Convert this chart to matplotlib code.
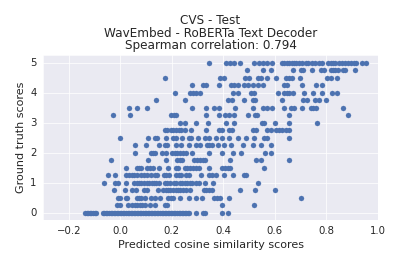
import matplotlib
matplotlib.use("Agg")
import matplotlib.pyplot as plt
import seaborn as sns
import numpy as np

sns.set_style("darkgrid")

# Predicted cosine similarity (x) for each ground-truth score level (y)
x_500 = [0.344, 0.41, 0.426, 0.44, 0.465, 0.52, 0.539, 0.555, 0.57, 0.59, 0.627, 0.636, 0.645,
         0.655, 0.665, 0.674, 0.683, 0.694, 0.707, 0.72, 0.73, 0.743, 0.755, 0.771, 0.784,
         0.807, 0.816, 0.825, 0.835, 0.848, 0.861, 0.871, 0.884, 0.897, 0.906, 0.915, 0.936, 0.955]
x_475 = [0.49, 0.555, 0.584, 0.672, 0.701, 0.71, 0.743, 0.777, 0.79, 0.816, 0.825, 0.835,
         0.846, 0.864, 0.871, 0.91]
x_450 = [0.175, 0.385, 0.404, 0.485, 0.498, 0.533, 0.546, 0.571, 0.606, 0.642, 0.655, 0.668,
         0.698, 0.803, 0.816, 0.839]
x_425 = [0.278, 0.32, 0.331, 0.382, 0.43, 0.443, 0.456, 0.481, 0.494, 0.514, 0.535, 0.555,
         0.636, 0.645, 0.707, 0.758, 0.784]
x_400 = [0.211, 0.272, 0.282, 0.295, 0.31, 0.436, 0.458, 0.507, 0.52, 0.61, 0.636, 0.645,
         0.655, 0.671, 0.713, 0.748, 0.784, 0.82, 0.842]
x_375 = [0.14, 0.252, 0.417, 0.434, 0.481, 0.514, 0.524, 0.627, 0.709, 0.726, 0.755, 0.771, 0.8]
x_350 = [0.033, 0.063, 0.104, 0.278, 0.333, 0.365, 0.382, 0.447, 0.514, 0.555, 0.571, 0.587,
         0.636, 0.664, 0.674, 0.707, 0.739, 0.748, 0.761, 0.865]
x_325 = [-0.027, 0.037, 0.198, 0.208, 0.215, 0.331, 0.382, 0.408, 0.423, 0.443, 0.494, 0.524,
         0.53, 0.655, 0.883]
x_300 = [0.23, 0.25, 0.295, 0.34, 0.41, 0.44, 0.55, 0.556, 0.6, 0.655, 0.765]
x_275 = [0.172, 0.183, 0.196, 0.205, 0.215, 0.228, 0.237, 0.25, 0.275, 0.333, 0.382, 0.395,
         0.421, 0.434, 0.514, 0.526, 0.571, 0.584, 0.604, 0.616, 0.629, 0.642, 0.653]
x_250 = [-0.001, 0.108, 0.134, 0.143, 0.179, 0.205, 0.215, 0.241, 0.266, 0.275, 0.301, 0.327,
         0.346, 0.372, 0.395, 0.423, 0.456, 0.488, 0.52, 0.559, 0.571, 0.655]
x_225 = [0.057, 0.099, 0.151, 0.172, 0.183, 0.218, 0.237, 0.266, 0.295, 0.308, 0.337, 0.346,
         0.356, 0.378, 0.404, 0.43, 0.477, 0.514, 0.546, 0.584]
x_200 = [0.057, 0.118, 0.127, 0.134, 0.16, 0.176, 0.202, 0.211, 0.22, 0.23, 0.243, 0.256,
         0.279, 0.344, 0.395, 0.436, 0.468, 0.562, 0.584]
x_175 = [-0.037, 0.108, 0.176, 0.22, 0.23, 0.241, 0.286, 0.297, 0.308, 0.32, 0.329, 0.427,
         0.526, 0.546, 0.655]
x_150 = [0.022, 0.063, 0.073, 0.08, 0.104, 0.115, 0.127, 0.151, 0.185, 0.215, 0.224, 0.252,
         0.26, 0.272, 0.284, 0.295, 0.305, 0.346, 0.395, 0.407, 0.417, 0.426, 0.559]
x_125 = [-0.046, -0.021, 0.022, 0.035, 0.044, 0.054, 0.063, 0.08, 0.091, 0.102, 0.121, 0.134,
         0.143, 0.17, 0.179, 0.189, 0.215, 0.228, 0.237, 0.256, 0.266, 0.314, 0.346, 0.356,
         0.372, 0.404, 0.436, 0.479, 0.488]
x_100 = [-0.062, -0.021, -0.008, 0.024, 0.053, 0.063, 0.073, 0.082, 0.091, 0.102, 0.112, 0.122,
         0.131, 0.14, 0.149, 0.172, 0.181, 0.192, 0.208, 0.218, 0.23, 0.241, 0.25, 0.26,
         0.269, 0.279, 0.292, 0.305, 0.329, 0.359, 0.535]
x_075 = [-0.024, 0.018, 0.044, 0.06, 0.091, 0.102, 0.147, 0.166, 0.176, 0.185, 0.194, 0.205,
         0.215, 0.224, 0.233, 0.243, 0.254, 0.269, 0.323, 0.333, 0.344, 0.356, 0.465, 0.524, 0.6]
x_050 = [-0.01, -0.001, 0.022, 0.027, 0.063, 0.073, 0.082, 0.095, 0.121, 0.134, 0.153, 0.185,
         0.196, 0.205, 0.233, 0.266, 0.292, 0.317, 0.365, 0.375, 0.385, 0.42, 0.7]
x_025 = [-0.014, -0.001, 0.031, 0.044, 0.057, 0.066, 0.076, 0.086, 0.095, 0.115, 0.134, 0.172,
         0.181, 0.395, 0.517]
x_000 = [-0.136, -0.13, -0.124, -0.118, -0.112, -0.106, -0.1, -0.094, -0.068, -0.062, -0.056,
         -0.05, -0.044, -0.038, -0.032, -0.026, -0.02, -0.014, -0.008, -0.002, 0.004, 0.01,
         0.016, 0.022, 0.028, 0.034, 0.04, 0.046, 0.052, 0.058, 0.064, 0.07, 0.076, 0.082,
         0.088, 0.094, 0.1, 0.106, 0.112, 0.118, 0.124, 0.13, 0.136, 0.142, 0.148, 0.154,
         0.16, 0.166, 0.172, 0.178, 0.184, 0.19, 0.196, 0.202, 0.208, 0.214, 0.22, 0.226,
         0.232, 0.238, 0.244, 0.25, 0.256, 0.262, 0.268, 0.295, 0.32, 0.327, 0.395, 0.417]

levels = [5.0, 4.75, 4.5, 4.25, 4.0, 3.75, 3.5, 3.25, 3.0, 2.75, 2.5, 2.25, 2.0,
          1.75, 1.5, 1.25, 1.0, 0.75, 0.5, 0.25, 0.0]
rows = [x_500, x_475, x_450, x_425, x_400, x_375, x_350, x_325, x_300, x_275, x_250,
        x_225, x_200, x_175, x_150, x_125, x_100, x_075, x_050, x_025, x_000]

pred = np.concatenate([np.array(r) for r in rows])
truth = np.concatenate([np.full(len(r), lv) for r, lv in zip(rows, levels)])

title = "CVS - Test\nWavEmbed - RoBERTa Text Decoder\nSpearman correlation: 0.794"
xlabel = "Predicted cosine similarity scores"
ylabel = "Ground truth scores"

fig = plt.figure(figsize=(6, 4), dpi=66.5)
ax = fig.add_axes([43/399, 1-220/266, (378-43)/399, (220-55)/266])
ax.scatter(pred, truth, color="#4c72b0", s=30, linewidths=0.3)
ax.set_xlim(-0.3, 1.0)
ax.set_title(title, fontsize=13, linespacing=0.95)
ax.set_xlabel(xlabel, fontsize=12)
ax.set_ylabel(ylabel, fontsize=12)
ax.tick_params(labelsize=11)
fig.savefig("out.png", dpi=66.5)
